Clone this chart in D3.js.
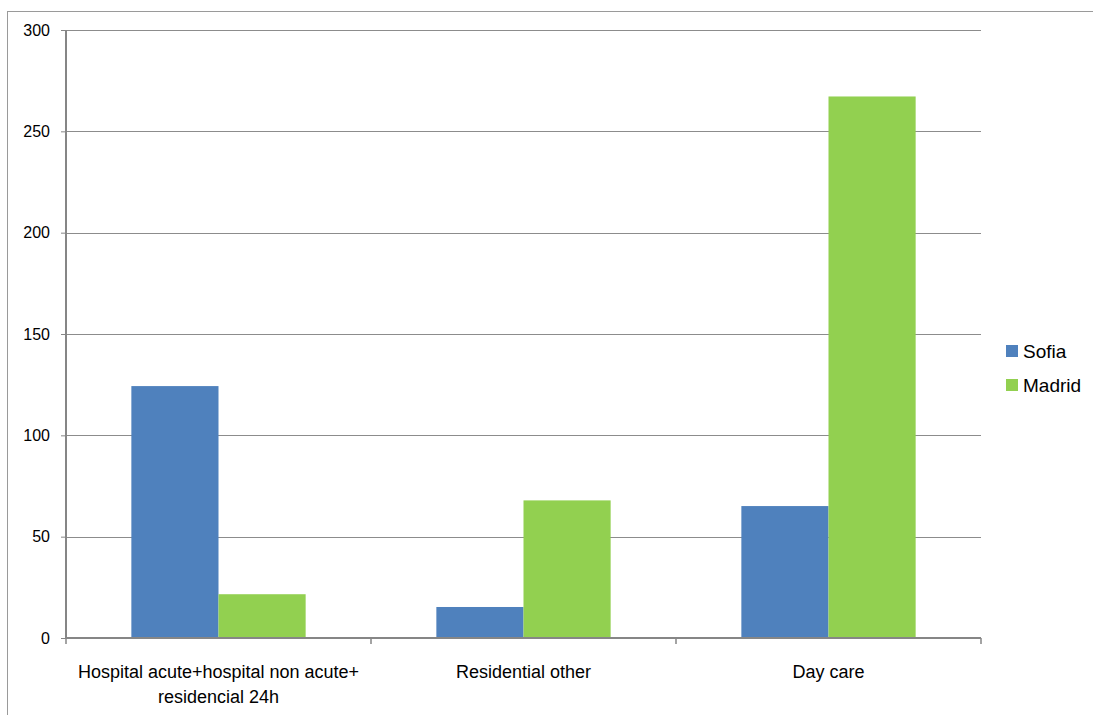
<!DOCTYPE html>
<html>
<head>
<meta charset="utf-8">
<script src="https://cdn.jsdelivr.net/npm/d3@7"></script>
<style>
  html, body { margin: 0; padding: 0; background: #fff; }
  svg { display: block; font-family: "Liberation Sans", Arial, sans-serif; }
</style>
</head>
<body>
<svg id="chart" width="1093" height="715"></svg>
<script>
// Care categories and the two city series
const categories = [
  ["Hospital acute+hospital non acute+", "residencial 24h"],
  ["Residential other"],
  ["Day care"]
];
const seriesNames = ["Sofia", "Madrid"];
const sofiaValues = [124.3, 15.3, 65.1];
const madridValues = [21.6, 67.9, 267.2];
const yTicks = [0, 50, 100, 150, 200, 250, 300];
const colors = ["#4F81BD", "#92D050"];

const svg = d3.select("#chart");
const margin = { left: 66, top: 30 };
const plotW = 981 - margin.left;
const plotH = 638 - margin.top;

// outer chart frame
svg.append("rect")
  .attr("x", 7.5).attr("y", 11.5)
  .attr("width", 1200).attr("height", 800)
  .attr("fill", "none").attr("stroke", "#9a9a9a").attr("stroke-width", 1);

const g = svg.append("g").attr("transform", `translate(${margin.left},${margin.top})`);

const catIdx = categories.map((d, i) => i);
const x0 = d3.scaleBand().domain(catIdx).range([0, plotW]).paddingInner(0).paddingOuter(0);
const x1 = d3.scaleBand().domain(seriesNames).range([0, x0.bandwidth()]).paddingInner(0).paddingOuter(0.75);
const y = d3.scaleLinear().domain([0, 300]).range([plotH, 0]);

// horizontal gridlines
g.append("g").selectAll("line").data(yTicks.filter(t => t > 0)).join("line")
  .attr("x1", 0).attr("x2", plotW)
  .attr("y1", d => Math.round(y(d)) + 0.5).attr("y2", d => Math.round(y(d)) + 0.5)
  .attr("stroke", "#8c8c8c").attr("stroke-width", 1);

// bars
const rows = catIdx.map(i => ({ i, vals: [sofiaValues[i], madridValues[i]] }));
const groups = g.append("g").selectAll("g").data(rows).join("g")
  .attr("transform", d => `translate(${x0(d.i)},0)`);
groups.selectAll("rect").data(d => d.vals.map((v, k) => ({ v, k }))).join("rect")
  .attr("x", d => x1(seriesNames[d.k]))
  .attr("width", x1.bandwidth())
  .attr("y", d => y(d.v))
  .attr("height", d => plotH - y(d.v))
  .attr("fill", d => colors[d.k]);

// y axis
const yAxis = g.append("g").call(
  d3.axisLeft(y).tickValues(yTicks).tickSize(5).tickPadding(11).tickFormat(d3.format("d"))
);
yAxis.attr("font-size", null).attr("font-family", null);
yAxis.select(".domain").attr("stroke", "#868686").attr("stroke-width", 2).attr("d", `M0,${plotH}V0`);
yAxis.selectAll(".tick line").attr("stroke", "#868686");
yAxis.selectAll(".tick text").style("font-size", "16px").attr("fill", "#000");

// x axis with tick marks at category boundaries
const xAxisG = g.append("g").attr("transform", `translate(0,${plotH})`);
xAxisG.append("line").attr("x1", 0).attr("x2", plotW).attr("y1", 0).attr("y2", 0)
  .attr("stroke", "#868686").attr("stroke-width", 2);
const bounds = catIdx.map(i => x0(i)).concat([plotW]);
xAxisG.selectAll("line.tk").data(bounds).join("line").attr("class", "tk")
  .attr("x1", d => d).attr("x2", d => d).attr("y1", 0).attr("y2", 6)
  .attr("stroke", "#868686").attr("stroke-width", 1.5);

// category labels
const labels = xAxisG.selectAll("text.cat").data(catIdx).join("text").attr("class", "cat")
  .attr("x", i => x0(i) + x0.bandwidth() / 2)
  .attr("text-anchor", "middle").style("font-size", "18px").attr("fill", "#000");
labels.each(function (i) {
  const t = d3.select(this);
  categories[i].forEach((line, k) => {
    t.append("tspan").attr("x", x0(i) + x0.bandwidth() / 2).attr("y", 40 + k * 25).text(line);
  });
});

// legend
const legend = svg.append("g").attr("transform", "translate(1006,345)");
seriesNames.forEach((name, k) => {
  const row = legend.append("g").attr("transform", `translate(0,${k * 34})`);
  row.append("rect").attr("width", 12).attr("height", 12).attr("fill", colors[k]);
  row.append("text").attr("x", 17).attr("y", 12.5).style("font-size", "19px").attr("fill", "#000").text(name);
});
</script>
</body>
</html>
